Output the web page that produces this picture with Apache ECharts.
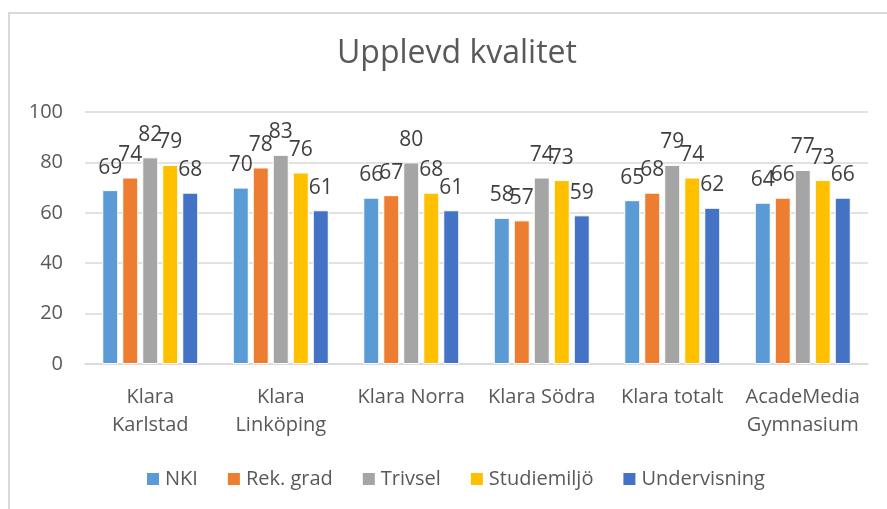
<!DOCTYPE html>
<html>
<head>
<meta charset="utf-8">
<script src="https://cdn.jsdelivr.net/npm/echarts@6/dist/echarts.min.js"></script>
<style>
  html, body { margin: 0; padding: 0; background: #fff; }
  #chart { width: 887px; height: 509px; }
</style>
</head>
<body>
<div id="chart"></div>
<script>
var categories = ['Klara\nKarlstad', 'Klara\nLinköping', 'Klara Norra', 'Klara Södra', 'Klara totalt', 'AcadeMedia\nGymnasium'];
var nki = [69, 70, 66, 58, 65, 64];
var rekGrad = [74, 78, 67, 57, 68, 66];
var trivsel = [82, 83, 80, 74, 79, 77];
var studiemiljo = [79, 76, 68, 73, 74, 73];
var undervisning = [68, 61, 61, 59, 62, 66];
var yTicks = [0, 20, 40, 60, 80, 100];

var chart = echarts.init(document.getElementById('chart'));

function bar(name, data, color) {
    return {
        name: name,
        type: 'bar',
        data: data,
        barWidth: 16,
        barGap: '25%',
        itemStyle: { color: color, borderColor: '#fff', borderWidth: 1 },
        label: {
            show: true,
            position: 'top',
            distance: 12,
            color: '#404040',
            fontSize: 21
        }
    };
}

var option = {
    animation: false,
    textStyle: { fontFamily: 'Open Sans' },
    title: {
        text: 'Upplevd kvalitet',
        left: 452,
        textAlign: 'center',
        top: 33,
        textStyle: { fontSize: 32, fontWeight: 'normal', color: '#595959' }
    },
    graphic: [{
        type: 'rect',
        shape: { x: 9, y: 13, width: 900, height: 520 },
        style: { fill: null, stroke: '#d9d9d9', lineWidth: 2 },
        silent: true
    }],
    legend: {
        top: 464,
        left: 140,
        itemWidth: 14,
        itemHeight: 14,
        itemGap: 28,
        icon: 'rect',
        textStyle: { fontSize: 20, color: '#595959' },
        data: ['NKI', 'Rek. grad', 'Trivsel', 'Studiemiljö', 'Undervisning']
    },
    grid: { left: 85, right: 19, top: 112, bottom: 145, containLabel: false },
    xAxis: {
        type: 'category',
        data: categories,
        axisLine: { lineStyle: { color: '#d9d9d9', width: 1.5 } },
        axisTick: { show: false },
        axisLabel: { fontSize: 20, color: '#595959', lineHeight: 28, margin: 19, interval: 0 }
    },
    yAxis: {
        type: 'value',
        min: yTicks[0],
        max: yTicks[yTicks.length - 1],
        interval: 20,
        axisLine: { show: false },
        axisTick: { show: false },
        axisLabel: { fontSize: 20, color: '#595959', margin: 22 },
        splitLine: { lineStyle: { color: '#d9d9d9', width: 1.5 } }
    },
    series: [
        bar('NKI', nki, '#5B9BD5'),
        bar('Rek. grad', rekGrad, '#ED7D31'),
        bar('Trivsel', trivsel, '#A5A5A5'),
        bar('Studiemiljö', studiemiljo, '#FFC000'),
        bar('Undervisning', undervisning, '#4472C4')
    ]
};
chart.setOption(option);
</script>
</body>
</html>
